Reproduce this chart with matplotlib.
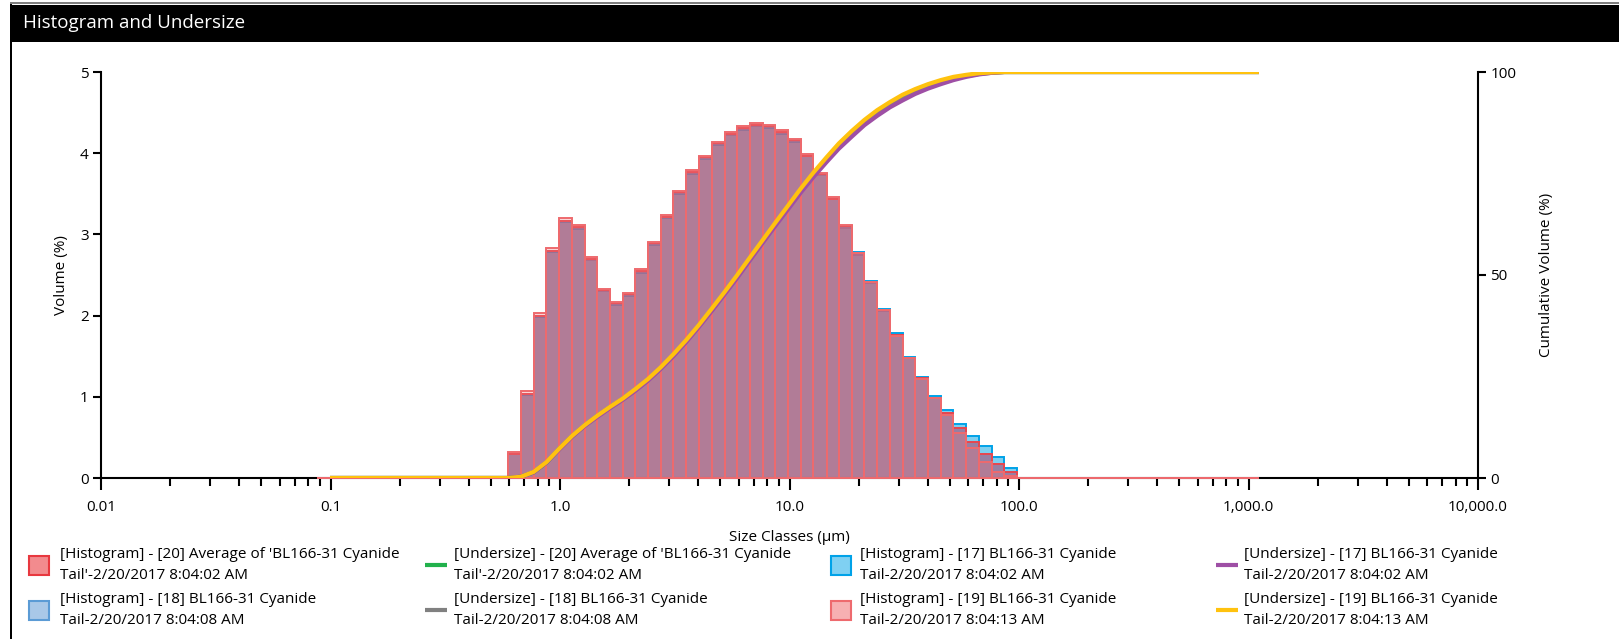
import numpy as np
import matplotlib.pyplot as plt
from matplotlib.patches import Rectangle
from matplotlib.lines import Line2D
from matplotlib.ticker import FixedLocator, LogLocator, NullFormatter

plt.rcParams['font.family'] = ['Open Sans', 'DejaVu Sans']

W, H = 1619, 639

# size class edges (um)
size_edges = [0.0876, 0.0995, 0.113, 0.128, 0.146, 0.166, 0.188, 0.214, 0.243, 0.276,
              0.314, 0.357, 0.405, 0.460, 0.523, 0.594, 0.675, 0.767, 0.872, 0.991,
              1.13, 1.28, 1.45, 1.65, 1.88, 2.13, 2.42, 2.75, 3.12, 3.55,
              4.03, 4.58, 5.21, 5.92, 6.72, 7.64, 8.68, 9.86, 11.2, 12.7,
              14.5, 16.4, 18.7, 21.2, 24.1, 27.4, 31.1, 35.3, 40.1, 45.6,
              51.8, 58.9, 66.9, 76.0, 86.4, 98.1, 111, 127, 144, 163,
              186, 211, 240, 272, 310, 352, 400, 454, 516, 586,
              666, 756, 859, 976, 1110]

# histogram (volume %), zero below 0.594 um and above 98.1 um
hist_17 = [0.0] * 15 + [0.29, 1.02, 1.98, 2.78, 3.15, 3.07, 2.68, 2.30, 2.13, 2.24,
                        2.53, 2.87, 3.20, 3.50, 3.75, 3.93, 4.10, 4.22, 4.29, 4.33,
                        4.31, 4.24, 4.14, 3.96, 3.73, 3.44, 3.10, 2.78, 2.42, 2.08,
                        1.78, 1.49, 1.24, 1.01, 0.84, 0.67, 0.52, 0.39, 0.255, 0.127] + [0.0] * 19
hist_18 = [0.0] * 15 + [0.30, 1.04, 2.00, 2.80, 3.17, 3.08, 2.69, 2.30, 2.14, 2.25,
                        2.54, 2.88, 3.21, 3.51, 3.76, 3.94, 4.11, 4.23, 4.30, 4.34,
                        4.32, 4.25, 4.15, 3.96, 3.73, 3.43, 3.08, 2.75, 2.40, 2.06,
                        1.76, 1.48, 1.23, 0.99, 0.80, 0.61, 0.44, 0.30, 0.17, 0.07] + [0.0] * 19
hist_20 = [0.0] * 15 + [0.30, 1.04, 2.00, 2.80, 3.17, 3.09, 2.70, 2.31, 2.15, 2.26,
                        2.55, 2.89, 3.22, 3.52, 3.77, 3.95, 4.12, 4.24, 4.31, 4.35,
                        4.33, 4.26, 4.16, 3.97, 3.74, 3.44, 3.10, 2.77, 2.41, 2.07,
                        1.76, 1.48, 1.23, 0.99, 0.80, 0.61, 0.44, 0.30, 0.17, 0.08] + [0.0] * 19
hist_19 = [0.0] * 15 + [0.32, 1.07, 2.03, 2.83, 3.20, 3.11, 2.72, 2.33, 2.17, 2.28,
                        2.57, 2.91, 3.24, 3.54, 3.79, 3.97, 4.14, 4.26, 4.33, 4.37,
                        4.35, 4.28, 4.18, 3.99, 3.76, 3.46, 3.11, 2.77, 2.41, 2.07,
                        1.75, 1.48, 1.22, 0.98, 0.77, 0.56, 0.37, 0.20, 0.08, 0.03] + [0.0] * 19

# undersize (cumulative %), at upper edge of each class
under_20 = [0.0] * 15 + [0.3, 1.4, 3.8, 7.1, 10.3, 12.9, 15.2, 17.4, 19.5, 21.7,
                         24.2, 27.1, 30.3, 33.8, 37.5, 41.5, 45.6, 49.7, 54.0, 58.3,
                         62.6, 66.8, 70.9, 74.8, 78.5, 81.9, 84.9, 87.7, 90.1, 92.1,
                         93.9, 95.4, 96.6, 97.6, 98.5, 99.1, 99.6, 99.9, 100.0, 100.0] + [100.0] * 19
under_18 = [0.0] * 15 + [0.3, 1.4, 3.8, 7.1, 10.3, 12.9, 15.2, 17.3, 19.4, 21.6,
                         24.1, 27.0, 30.2, 33.7, 37.4, 41.4, 45.5, 49.6, 53.9, 58.2,
                         62.5, 66.7, 70.8, 74.7, 78.4, 81.8, 84.8, 87.6, 90.0, 92.0,
                         93.8, 95.3, 96.5, 97.5, 98.4, 99.0, 99.5, 99.8, 100.0, 100.0] + [100.0] * 19
under_17 = [0.0] * 15 + [0.3, 1.4, 3.8, 7.0, 10.2, 12.8, 15.0, 17.2, 19.3, 21.5,
                         24.0, 26.9, 30.0, 33.5, 37.2, 41.1, 45.2, 49.3, 53.6, 57.9,
                         62.1, 66.2, 70.3, 74.1, 77.8, 81.1, 84.1, 86.9, 89.2, 91.3,
                         93.0, 94.6, 95.9, 97.0, 98.0, 98.8, 99.4, 99.8, 100.0, 100.0] + [100.0] * 19
under_19 = [0.0] * 15 + [0.3, 1.5, 3.9, 7.2, 10.4, 13.0, 15.3, 17.5, 19.6, 21.9,
                         24.4, 27.3, 30.5, 34.0, 37.7, 41.7, 45.8, 50.0, 54.3, 58.6,
                         62.9, 67.1, 71.3, 75.2, 79.0, 82.4, 85.5, 88.2, 90.6, 92.6,
                         94.4, 95.8, 97.0, 98.0, 98.8, 99.3, 99.7, 99.9, 100.0, 100.0] + [100.0] * 19

xticks = [0.01, 0.1, 1, 10, 100, 1000, 10000]
xticklabels = ['0.01', '0.1', '1.0', '10.0', '100.0', '1,000.0', '10,000.0']

# legend entries: (kind, face, edge, label, column, row)
legend_items = [
    ('patch', '#F28B8E', '#E8383F',
     "[Histogram] - [20] Average of 'BL166-31 Cyanide\nTail'-2/20/2017 8:04:02 AM", 0, 0),
    ('line', '#22B14C', '#22B14C',
     "[Undersize] - [20] Average of 'BL166-31 Cyanide\nTail'-2/20/2017 8:04:02 AM", 1, 0),
    ('patch', '#7FD0F2', '#00A2E8',
     "[Histogram] - [17] BL166-31 Cyanide\nTail-2/20/2017 8:04:02 AM", 2, 0),
    ('line', '#9E4FA5', '#9E4FA5',
     "[Undersize] - [17] BL166-31 Cyanide\nTail-2/20/2017 8:04:02 AM", 3, 0),
    ('patch', '#A9C8E8', '#5B9BD5',
     "[Histogram] - [18] BL166-31 Cyanide\nTail-2/20/2017 8:04:08 AM", 0, 1),
    ('line', '#808080', '#808080',
     "[Undersize] - [18] BL166-31 Cyanide\nTail-2/20/2017 8:04:08 AM", 1, 1),
    ('patch', '#F7B0B2', '#EE6A6E',
     "[Histogram] - [19] BL166-31 Cyanide\nTail-2/20/2017 8:04:13 AM", 2, 1),
    ('line', '#FFC20E', '#FFC20E',
     "[Undersize] - [19] BL166-31 Cyanide\nTail-2/20/2017 8:04:13 AM", 3, 1),
]

FS = 11

fig = plt.figure(figsize=(W / 100, H / 100), dpi=100)
fig.patch.set_facecolor('white')

# panel frame + title bar
fig.add_artist(Rectangle((10 / W, 0), 2 / W, 1 - 4 / H, transform=fig.transFigure,
                         facecolor='black', edgecolor='none'))
fig.add_artist(Rectangle((10 / W, 1 - 3.5 / H), 1 - 10 / W, 1.2 / H, transform=fig.transFigure,
                         facecolor='#808080', edgecolor='none'))
fig.add_artist(Rectangle((10 / W, 1 - 41.5 / H), 1 - 10 / W, 36 / H, transform=fig.transFigure,
                         facecolor='black', edgecolor='none'))
fig.text(23 / W, 1 - 23.5 / H, 'Histogram and Undersize', color='white', fontsize=13.5,
         va='center', ha='left')

ax = fig.add_axes([101 / W, 1 - 478 / H, (1478 - 101) / W, (478 - 72) / H])
ax2 = ax.twinx()

left = size_edges[:-1]
widths = np.diff(size_edges)
bar_kw = dict(align='edge', linewidth=1.4, clip_on=False)
ax.bar(left, hist_17, widths, facecolor=(0 / 255, 160 / 255, 225 / 255, 0.5),
       edgecolor='#00A2E8', zorder=2, **bar_kw)
ax.bar(left, hist_18, widths, facecolor=(91 / 255, 120 / 255, 190 / 255, 0.5),
       edgecolor='#6A80B8', zorder=3, **bar_kw)
ax.bar(left, hist_20, widths, facecolor=(232 / 255, 60 / 255, 70 / 255, 0.35),
       edgecolor='#E8474F', zorder=4, **bar_kw)
ax.bar(left, hist_19, widths, facecolor=(240 / 255, 120 / 255, 125 / 255, 0.3),
       edgecolor='#EE6A6E', zorder=5, **bar_kw)

xs = size_edges[1:]
ax2.plot(xs, under_20, color='#22B14C', lw=3, solid_capstyle='butt')
ax2.plot(xs, under_18, color='#808080', lw=3, solid_capstyle='butt')
ax2.plot(xs, under_17, color='#9E4FA5', lw=3, solid_capstyle='butt')
ax2.plot(xs, under_19, color='#FFC20E', lw=3, solid_capstyle='butt')

ax.set_xscale('log')
ax.set_xlim(0.01, 10000)
ax.set_ylim(0, 5)
ax2.set_ylim(0, 100)

ax.xaxis.set_major_locator(FixedLocator(xticks))
ax.set_xticklabels(xticklabels)
ax.xaxis.set_minor_locator(LogLocator(base=10, subs=np.arange(2, 10)))
ax.xaxis.set_minor_formatter(NullFormatter())
ax.set_yticks([0, 1, 2, 3, 4, 5])
ax2.set_yticks([0, 50, 100])

for a in (ax, ax2):
    a.spines['top'].set_visible(False)
    for s in a.spines.values():
        s.set_linewidth(1.5)
        s.set_color('black')
    a.set_facecolor('none')
ax.spines['right'].set_visible(False)
ax2.spines['left'].set_visible(False)
ax2.spines['bottom'].set_visible(False)

ax.tick_params(axis='x', which='major', direction='out', length=8.5, width=1.5,
               labelsize=FS, pad=7)
ax.tick_params(axis='x', which='minor', direction='out', length=6, width=1.5)
ax.tick_params(axis='y', direction='out', length=6, width=1.5, labelsize=FS, pad=3)
ax2.tick_params(axis='y', direction='out', length=6, width=1.5, labelsize=FS, pad=3)

ax.set_xlabel('Size Classes (µm)', fontsize=FS, labelpad=11)
ax.set_ylabel('Volume (%)', fontsize=FS, labelpad=8)
ax2.set_ylabel('Cumulative Volume (%)', fontsize=FS, labelpad=16)

# legend, laid out in pixel positions (4 columns x 2 rows)
col_handle_x = [29, 425, 831, 1216]
col_text_x = [60, 454, 860, 1244]
row_y = [565, 610]
for kind, face, edge, text, col, row in legend_items:
    x0, y0 = col_handle_x[col], row_y[row]
    if kind == 'patch':
        fig.add_artist(Rectangle((x0 / W, 1 - (y0 + 9.5) / H), 20 / W, 19 / H,
                                 transform=fig.transFigure, facecolor=face,
                                 edgecolor=edge, linewidth=1.5))
    else:
        fig.add_artist(Line2D([x0 / W, (x0 + 22) / W], [1 - y0 / H, 1 - y0 / H],
                              transform=fig.transFigure, color=face, lw=3,
                              solid_capstyle='butt'))
    fig.text(col_text_x[col] / W, 1 - y0 / H, text, fontsize=FS, va='center',
             ha='left', linespacing=1.55)

fig.savefig('out.png', dpi=100, facecolor='white')
